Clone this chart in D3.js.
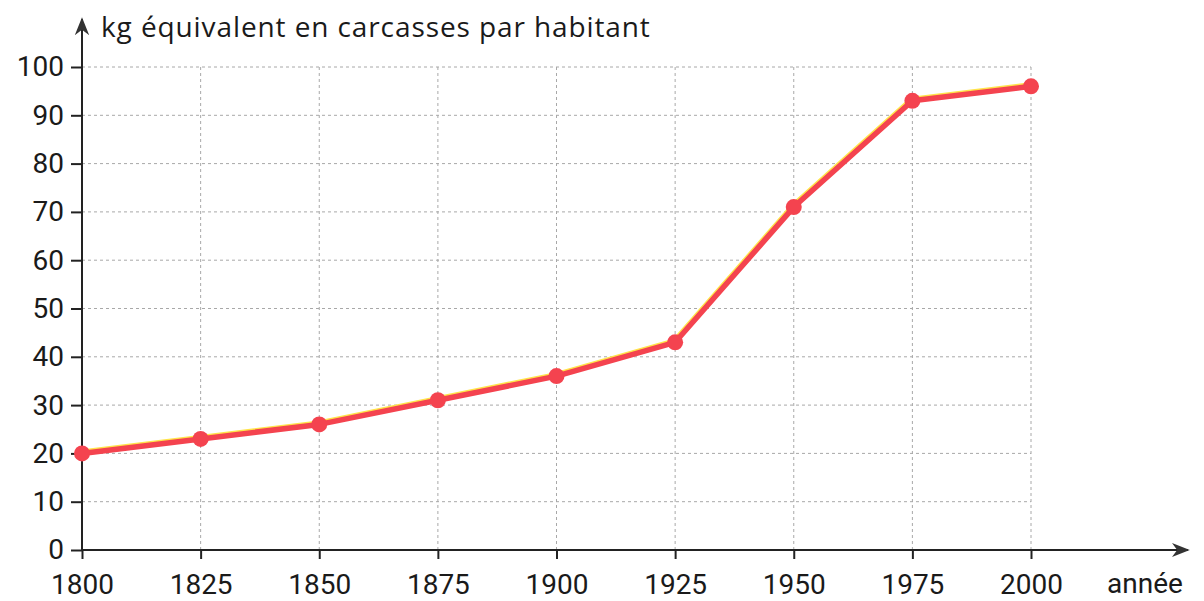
<!DOCTYPE html>
<html>
<head>
<meta charset="utf-8">
<script src="https://cdn.jsdelivr.net/npm/d3@7"></script>
<style>
  body { margin: 0; background: #fff; }
  svg { display: block; }
  text { font-family: "Open Sans", "Noto Sans", sans-serif; fill: #1a1a1a; }
  .tick text, .xtitle { font-family: Roboto, "Open Sans", sans-serif; }
</style>
</head>
<body>
<div id="chart"></div>
<script>
// data
const years = [1800, 1825, 1850, 1875, 1900, 1925, 1950, 1975, 2000];
const kgPerHead = [20, 23, 26, 31, 36, 43, 71, 93, 96];
const yTicks = [0, 10, 20, 30, 40, 50, 60, 70, 80, 90, 100];
const yTitle = "kg équivalent en carcasses par habitant";
const xTitle = "année";

const width = 1204, height = 601;
const svg = d3.select("#chart").append("svg")
    .attr("width", width)
    .attr("height", height);

const x = d3.scaleLinear().domain([1800, 2000]).range([82, 1031]);
const y = d3.scaleLinear().domain([0, 100]).range([550, 67]);

// grid
let grid = svg.append("g").attr("stroke", "#a8a8a8").attr("stroke-width", 1)
    .attr("stroke-dasharray", "3,3");
grid.selectAll("line.h").data(yTicks.filter(d => d > 0)).enter().append("line")
    .attr("x1", x(1800)).attr("x2", x(2000))
    .attr("y1", d => y(d)).attr("y2", d => y(d));
grid.selectAll("line.v").data(years.slice(1)).enter().append("line")
    .attr("x1", d => x(d)).attr("x2", d => x(d))
    .attr("y1", y(100)).attr("y2", y(0));

// axes
let yAxis = d3.axisLeft(y).tickValues(yTicks).tickSize(11).tickPadding(7);
let xAxis = d3.axisBottom(x).tickValues(years).tickSize(9).tickPadding(15).tickFormat(d3.format("d"));

let gy = svg.append("g").attr("transform", "translate(" + x(1800) + ",0)").call(yAxis);
let gx = svg.append("g").attr("transform", "translate(0," + y(0) + ")").call(xAxis);
[gx, gy].forEach(g => {
    g.select(".domain").remove();
    g.selectAll(".tick line").attr("stroke", "#222").attr("stroke-width", 2);
    g.selectAll(".tick text").attr("font-size", 28).attr("fill", "#1a1a1a");
});
gx.selectAll(".tick text").attr("dy", "0.71em");

// axis lines with arrows
svg.append("defs").append("marker")
    .attr("id", "arrow").attr("viewBox", "0 0 10 10")
    .attr("refX", 9).attr("refY", 5)
    .attr("markerWidth", 18).attr("markerHeight", 18)
    .attr("markerUnits", "userSpaceOnUse")
    .attr("orient", "auto")
    .append("path").attr("d", "M0,1 L10,5 L0,9 L3,5 Z").attr("fill", "#333");

svg.append("line")
    .attr("x1", x(1800)).attr("x2", x(1800))
    .attr("y1", y(0)).attr("y2", 19)
    .attr("stroke", "#222").attr("stroke-width", 2)
    .attr("marker-end", "url(#arrow)");
svg.append("line")
    .attr("x1", x(1800)).attr("x2", 1188)
    .attr("y1", y(0)).attr("y2", y(0))
    .attr("stroke", "#222").attr("stroke-width", 2)
    .attr("marker-end", "url(#arrow)");

// titles
svg.append("text").attr("x", 101).attr("y", 37)
    .attr("font-size", 28).attr("letter-spacing", 0.9).text(yTitle);
svg.append("text").attr("class", "xtitle").attr("x", 1107).attr("y", 593)
    .attr("font-size", 28).text(xTitle);

// series
let pts = years.map((yr, i) => ({x: yr, y: kgPerHead[i]}));
let line = d3.line().x(d => x(d.x)).y(d => y(d.y));

svg.append("path").datum(pts)
    .attr("d", line)
    .attr("transform", "translate(-1,-2)")
    .attr("fill", "none").attr("stroke", "#ffe44a").attr("stroke-width", 4)
    .attr("stroke-linejoin", "round");
svg.append("path").datum(pts)
    .attr("d", line)
    .attr("fill", "none").attr("stroke", "#f4434f").attr("stroke-width", 5.5)
    .attr("stroke-linejoin", "round");

svg.selectAll("circle.pt").data(pts).enter().append("circle")
    .attr("class", "pt")
    .attr("cx", d => x(d.x)).attr("cy", d => y(d.y))
    .attr("r", 8)
    .attr("fill", "#f4434f");
</script>
</body>
</html>
